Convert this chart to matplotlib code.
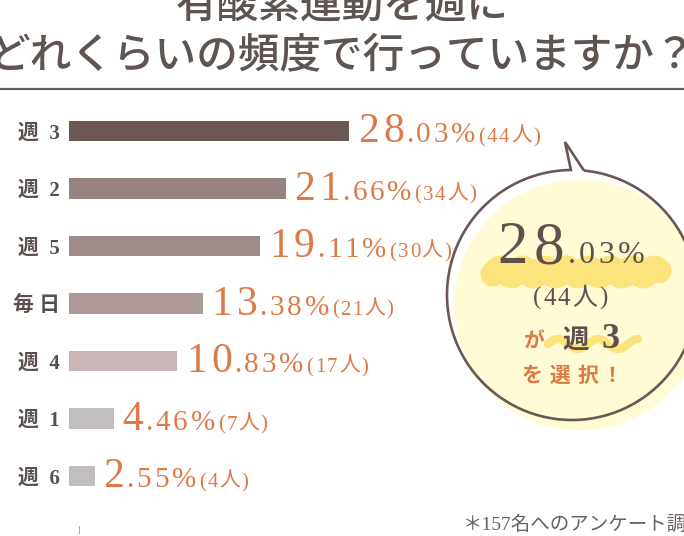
import matplotlib
matplotlib.use('Agg')
import matplotlib.pyplot as plt
import numpy as np
from matplotlib.patches import Circle, Polygon

# data
categories = ['週  3', '週  2', '週  5', '毎 日', '週  4', '週  1', '週  6']
pct_int = ['28', '21', '19', '13', '10', '4', '2']
pct_dec = ['.03%', '.66%', '.11%', '.38%', '.83%', '.46%', '.55%']
counts = [44, 34, 30, 21, 17, 7, 4]
percent = [28.03, 21.66, 19.11, 13.38, 10.83, 4.46, 2.55]
bar_colors = ['#6b5855', '#978382', '#9d8b8a', '#ad9998', '#c7b6b5', '#c2bebe', '#c2bebe']

title1 = '有酸素運動を週に'
title2 = 'どれくらいの頻度で行っていますか？'
note = '＊157名へのアンケート調査'

SERIF = ['Liberation Serif', 'Noto Sans CJK JP']
CJK = ['Noto Sans CJK JP', 'Liberation Serif']
ORANGE = '#dc7b48'
DARK = '#5f504c'

W, H = 684, 536
fig = plt.figure(figsize=(W / 100, H / 100), dpi=100)
renderer = fig.canvas.get_renderer()

# overlay axes in pixel units
ov = fig.add_axes([0, 0, 1, 1])
ov.set_xlim(0, W)
ov.set_ylim(H, 0)
ov.axis('off')

# bar axes
ax = fig.add_axes([69 / W, 1 - 504.75 / H, 300 / W, 402.5 / H])
ax.patch.set_alpha(0)
ypos = np.arange(len(percent))
ax.barh(ypos, percent, height=0.35, color=bar_colors)
ax.set_xlim(0, 30)
ax.set_ylim(6.5, -0.5)
ax.set_xticks([])
ax.set_yticks(ypos, categories)
for lab in ax.get_yticklabels():
    lab.set_fontfamily(SERIF)
    lab.set_fontsize(15)
    lab.set_color('#5a504d')
    lab.set_fontweight('bold')
ax.tick_params(axis='y', length=0, pad=6.5)
for sp in ax.spines.values():
    sp.set_visible(False)


def run(x, y, pieces, center=False):
    texts = []
    cur = x
    for s, size, color, fam, wt, gap in pieces:
        cur += gap
        t = ov.text(cur, y, s, fontsize=size, color=color, family=fam,
                    weight=wt, va='baseline', ha='left', zorder=5)
        cur += t.get_window_extent(renderer).width
        texts.append(t)
    if center:
        shift = (cur - x) / 2
        for t in texts:
            t.set_x(t.get_position()[0] - shift)
    return cur


def spaced(s, size, color, fam, gap, first_gap):
    return [(c, size, color, fam, 'normal', first_gap if k == 0 else gap)
            for k, c in enumerate(s)]


# value labels
for i in range(len(percent)):
    disp = ax.transData.transform((percent[i], ypos[i]))
    px, py = ov.transData.inverted().transform(disp)
    pieces = (spaced(pct_int[i], 30, ORANGE, SERIF, 4, 0)
              + spaced(pct_dec[i], 21, ORANGE, SERIF, 3, 2)
              + spaced('(%d人)' % counts[i], 15, ORANGE, SERIF, 1.5, 3))
    run(px + 9, py + 11, pieces)

# title
ov.text(342, 6, title1, ha='center', va='center', fontsize=30,
        family=CJK, color='#5e5550', weight='medium')
ov.text(342, 56, title2, ha='center', va='center', fontsize=30,
        family=CJK, color='#5e5550', weight='medium')
ov.plot([0, W], [89, 89], color='#6b5f5b', lw=1.6)

# speech bubble
ov.add_patch(Circle((580, 305), 125, color='#fffbd5', zorder=1))
cx, cy, r = 572, 295, 125
th = np.radians(np.linspace(-84.5, 269.5, 300))
pts = np.column_stack([cx + r * np.cos(th), cy + r * np.sin(th)])
pts = np.vstack([pts, [[565, 142]]])
ov.add_patch(Polygon(pts, closed=True, fill=False, edgecolor='#6b5854',
                     lw=1.9, zorder=2))

# wavy highlights
xw = np.linspace(493, 659, 200)
ov.plot(xw, 272 + 4 * np.sin(2 * np.pi * xw / 22), color='#fde37c', lw=18,
        solid_capstyle='round', zorder=3)
xw2 = np.linspace(548, 638, 120)
ov.plot(xw2, 344 - 5 * np.sin(2 * np.pi * (xw2 - 548) / 40), color='#fde37c',
        lw=6, solid_capstyle='round', zorder=3)

# bubble text
run(571, 263, spaced('28', 44, DARK, SERIF, 6, 0)
    + spaced('.03%', 23, DARK, SERIF, 3.5, 3), center=True)
run(570, 305, spaced('(44', 18, DARK, SERIF, 2, 0)
    + [('人', 18, DARK, CJK, 'normal', 2), (')', 18, DARK, SERIF, 'normal', 2)],
    center=True)
run(572, 348, [
    ('が', 15, ORANGE, CJK, 'bold', 0),
    ('週', 19, DARK, CJK, 'bold', 17),
    ('3', 26, DARK, SERIF, 'bold', 13),
], center=True)
run(572, 382, [
    ('を', 15, ORANGE, CJK, 'bold', 0),
    ('選', 15, ORANGE, CJK, 'bold', 7),
    ('択', 15, ORANGE, CJK, 'bold', 7),
    ('！', 15, ORANGE, CJK, 'bold', 3),
], center=True)

# footnote
ov.text(463, 530, note, fontsize=14, family=SERIF, color='#6a6262',
        va='baseline', ha='left')
ov.plot([79, 79], [526, 533], color='#aaaaaa', lw=0.8)

fig.savefig('out.png', dpi=100)
